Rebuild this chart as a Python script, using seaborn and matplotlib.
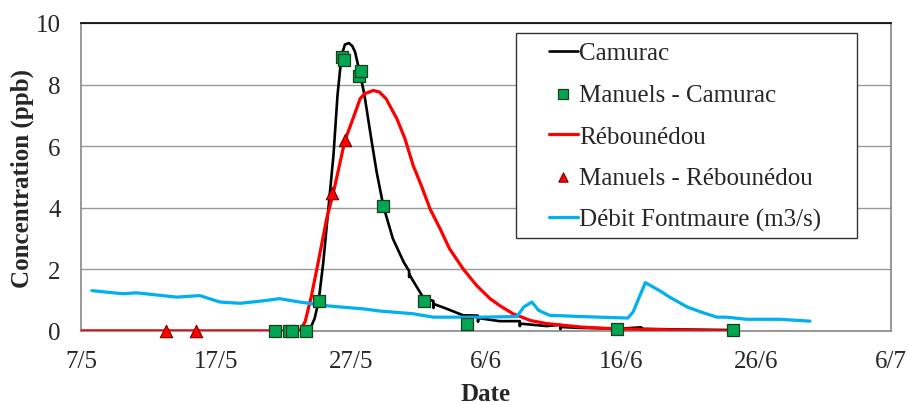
import matplotlib
matplotlib.use("Agg")
import matplotlib.pyplot as plt
from matplotlib.patches import Rectangle
import seaborn as sns
import pandas as pd

# day offsets since 7/5
camurac_days = [0, 16.6, 17.0, 17.3, 17.6, 17.95, 18.3, 18.7, 19.0, 19.3, 19.55, 19.85, 20.1, 20.3, 20.7, 21.0, 21.5, 21.9, 22.4, 23.1, 23.9, 24.3, 24.31, 24.32, 24.5, 25.4, 26.1, 26.11, 26.12, 27.1, 28.3, 29.4, 29.41, 29.42, 31.0, 32.5, 32.51, 32.52, 34.5, 35.5, 35.51, 35.52, 37.0, 39.9, 41.5, 41.51, 41.52, 44.4, 48.3]
camurac_vals = [0, 0, 0.1, 0.4, 0.96, 2.24, 3.86, 5.7, 7.65, 8.95, 9.3, 9.35, 9.25, 9.06, 8.3, 7.65, 6.24, 5.16, 4.05, 3.0, 2.24, 1.95, 1.75, 1.85, 1.7, 1.05, 0.98, 0.75, 0.88, 0.72, 0.51, 0.5, 0.3, 0.42, 0.32, 0.32, 0.16, 0.24, 0.16, 0.2, 0.06, 0.13, 0.1, 0.075, 0.12, 0.03, 0.07, 0.05, 0.03]

reb_days = [0, 16.2, 16.6, 17.05, 17.6, 18.2, 18.7, 19.55, 19.9, 20.4, 20.67, 21.0, 21.65, 22.1, 22.6, 23.4, 24.0, 24.6, 25.2, 25.85, 26.6, 27.3, 28.3, 29.3, 30.3, 31.0, 32.0, 33.3, 34.5, 37.0, 39.4, 44.4, 48.3]
reb_vals = [0, 0, 0.3, 1.1, 2.3, 3.65, 4.5, 6.19, 6.6, 7.2, 7.54, 7.7, 7.81, 7.76, 7.54, 6.89, 6.24, 5.38, 4.73, 3.97, 3.32, 2.67, 2.02, 1.48, 1.05, 0.83, 0.56, 0.34, 0.24, 0.13, 0.075, 0.03, 0.0]

debit_days = [0.8, 3.1, 4.1, 7.1, 8.8, 10.3, 11.8, 13.5, 14.7, 16.2, 18.4, 20.9, 22.1, 24.6, 26.1, 29.6, 32.3, 32.8, 33.4, 33.9, 34.7, 37.0, 40.5, 40.9, 41.8, 42.9, 43.6, 44.9, 45.9, 47.1, 47.8, 49.3, 51.8, 54.0]
debit_vals = [1.31, 1.21, 1.24, 1.1, 1.15, 0.94, 0.9, 0.98, 1.05, 0.94, 0.81, 0.72, 0.65, 0.56, 0.45, 0.45, 0.47, 0.78, 0.94, 0.67, 0.51, 0.47, 0.42, 0.62, 1.57, 1.3, 1.1, 0.78, 0.62, 0.45, 0.45, 0.38, 0.38, 0.32]

man_cam_days = [14.37, 15.43, 15.63, 16.64, 17.6, 19.3, 19.5, 20.6, 20.74, 22.4, 25.4, 28.6, 39.7, 48.3]
man_cam_vals = [0, 0, 0, 0, 0.96, 8.9, 8.81, 8.27, 8.43, 4.05, 0.96, 0.24, 0.075, 0.04]

man_reb_days = [6.3, 8.5, 18.6, 19.56]
man_reb_vals = [0, 0, 4.48, 6.19]

xtick_pos = [0, 10, 20, 30, 40, 50, 60]
xtick_labels = ["7/5", "17/5", "27/5", "6/6", "16/6", "26/6", "6/7"]
ytick_pos = [0, 2, 4, 6, 8, 10]

sns.set_style("white")
plt.rcParams['font.family'] = ['Liberation Serif', 'DejaVu Serif']

W, H = 909, 406
fig = plt.figure(figsize=(W / 100, H / 100), dpi=100)
ax = fig.add_axes([81 / W, 74 / H, 810 / W, 308 / H])

df_cam = pd.DataFrame({"d": camurac_days, "v": camurac_vals})
df_reb = pd.DataFrame({"d": reb_days, "v": reb_vals})
df_deb = pd.DataFrame({"d": debit_days, "v": debit_vals})
df_mc = pd.DataFrame({"d": man_cam_days, "v": man_cam_vals})
df_mr = pd.DataFrame({"d": man_reb_days, "v": man_reb_vals})

sns.lineplot(data=df_cam, x="d", y="v", ax=ax, color="black", lw=1.9, label="Camurac", zorder=3, sort=False)
sns.scatterplot(data=df_mc, x="d", y="v", ax=ax, marker="s", s=75, color="#00A651", edgecolor="#1a3d1a", linewidth=0.9, label="Manuels - Camurac", zorder=6, clip_on=False)
sns.lineplot(data=df_reb, x="d", y="v", ax=ax, color="#FF0000", lw=2.3, label="Rébounédou", zorder=4, sort=False)
sns.scatterplot(data=df_mr, x="d", y="v", ax=ax, marker="^", s=80, color="#FF0000", edgecolor="#7a0000", linewidth=0.8, label="Manuels - Rébounédou", zorder=6, clip_on=False)
sns.lineplot(data=df_deb, x="d", y="v", ax=ax, color="#00B0F0", lw=2.3, label="Débit Fontmaure (m3/s)", zorder=5, sort=False)

ax.set_xlim(0, 60)
ax.set_ylim(0, 10)
ax.set_xticks(xtick_pos)
ax.set_xticklabels(xtick_labels)
ax.set_yticks(ytick_pos)
ax.tick_params(axis="both", labelsize=18, direction="out", length=5.5, width=1, color="#888888")
ax.tick_params(axis="x", pad=8)
ax.tick_params(axis="y", pad=9)
ax.yaxis.grid(True, color="#999999", lw=1)
ax.set_axisbelow(True)
for s in ["left", "bottom", "right"]:
    ax.spines[s].set_color("#888888")
    ax.spines[s].set_linewidth(1.2)
ax.spines["top"].set_color("black")
ax.spines["top"].set_linewidth(1.2)

ax.set_xlabel("Date", fontsize=18, fontweight="bold")
ax.set_ylabel("Concentration (ppb)", fontsize=18, fontweight="bold")
ax.xaxis.set_label_coords(0.5, -0.165)
ax.yaxis.set_label_coords(-0.058, 0.5)

# legend box (Excel-style wide frame)
box = Rectangle((516 / W, (H - 239) / H), 341 / W, 205 / H, transform=fig.transFigure,
                facecolor="white", edgecolor="#333333", lw=1.0, zorder=7, clip_on=False)
ax.add_patch(box)
leg = ax.legend(loc="upper left", bbox_to_anchor=(549 / W, (H - 43) / H), bbox_transform=fig.transFigure,
                frameon=False, fontsize=18, handlelength=1.15, handletextpad=0.05,
                labelspacing=0.76, borderpad=0, borderaxespad=0, markerscale=0.75)
leg.set_zorder(8)

fig.savefig("out.png", dpi=100)
